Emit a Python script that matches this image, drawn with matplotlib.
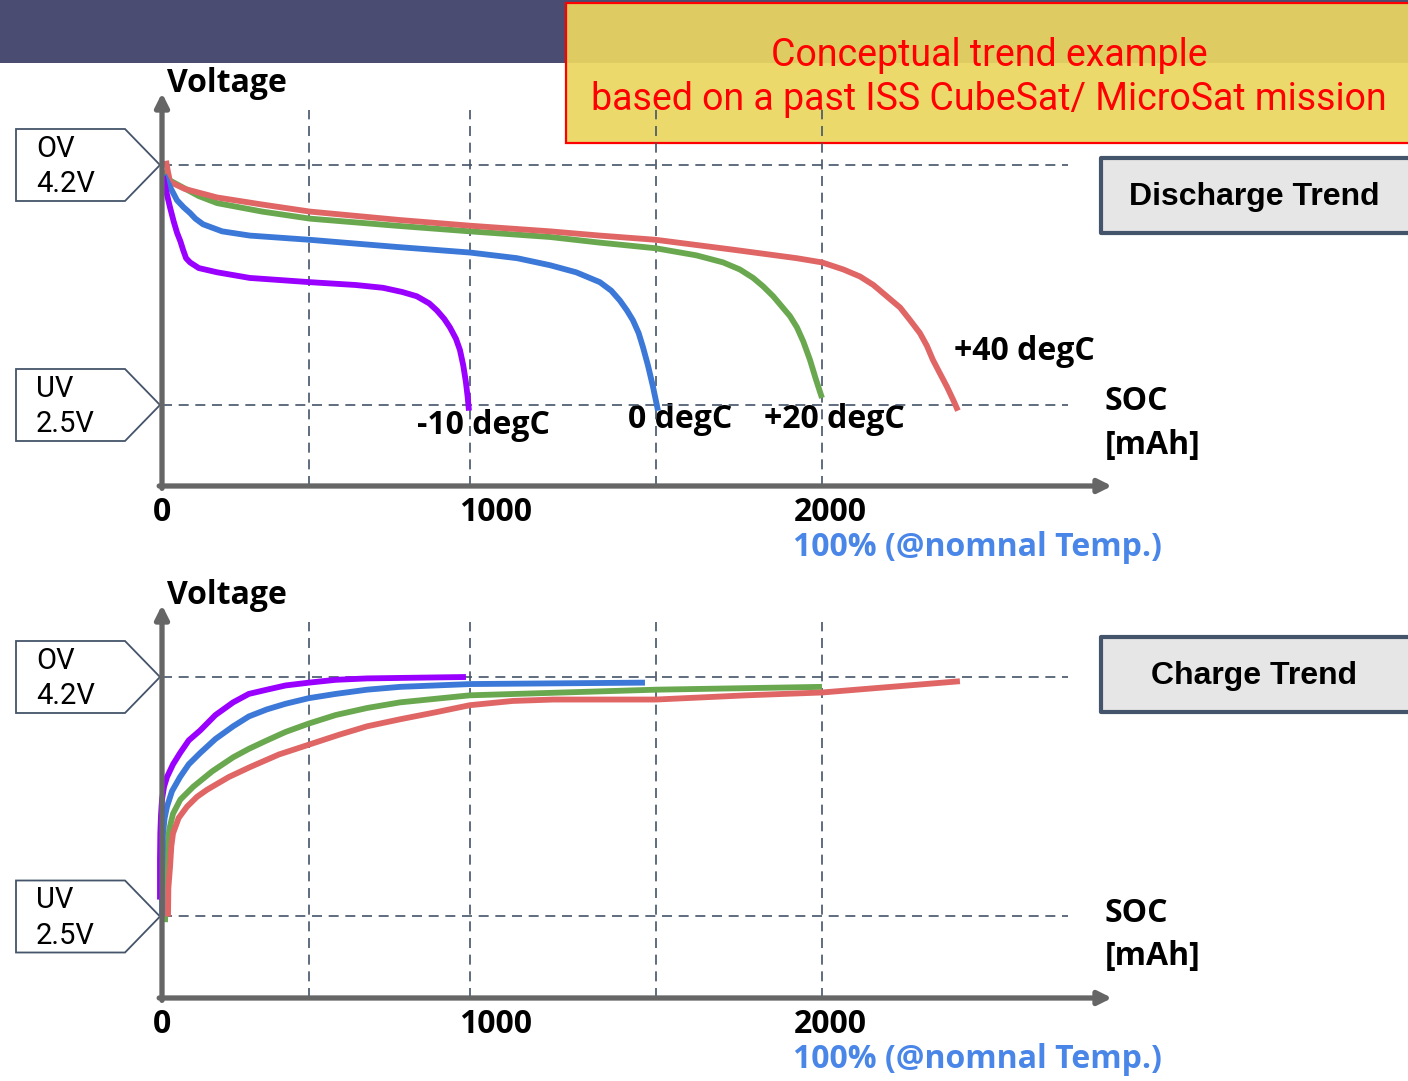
import matplotlib.pyplot as plt
from matplotlib.patches import Rectangle, Polygon

# discharge curves (mAh, V)
dis_m10_mah = [3, 12, 24, 35, 45, 55, 63, 72, 84, 110, 165, 263, 443, 580, 662, 720, 763, 800,
               823, 845, 862, 880, 892, 902, 910, 915, 919]
dis_m10_v = [4.12, 4.02, 3.90, 3.80, 3.72, 3.66, 3.60, 3.54, 3.51, 3.47, 3.44, 3.40, 3.37, 3.35,
             3.33, 3.30, 3.27, 3.22, 3.17, 3.11, 3.05, 2.97, 2.89, 2.78, 2.66, 2.56, 2.46]
dis_0_mah = [6, 25, 45, 65, 84, 100, 123, 180, 263, 443, 700, 922, 1063, 1162, 1240, 1311, 1345,
             1371, 1392, 1410, 1427, 1440, 1455, 1470, 1485]
dis_0_v = [4.13, 4.04, 3.95, 3.90, 3.86, 3.82, 3.78, 3.73, 3.70, 3.67, 3.62, 3.58, 3.54, 3.49,
           3.44, 3.37, 3.31, 3.24, 3.17, 3.10, 3.01, 2.91, 2.78, 2.63, 2.46]
dis_20_mah = [3, 24, 63, 110, 165, 300, 443, 700, 922, 1162, 1311, 1479, 1600, 1680, 1730, 1770,
              1800, 1830, 1855, 1880, 1901, 1920, 1940, 1958, 1976]
dis_20_v = [4.16, 4.09, 4.04, 3.98, 3.93, 3.87, 3.82, 3.77, 3.73, 3.69, 3.65, 3.61, 3.56, 3.51,
            3.46, 3.40, 3.34, 3.27, 3.20, 3.13, 3.05, 2.95, 2.82, 2.68, 2.55]
dis_40_mah = [12, 18, 24, 69, 165, 300, 443, 713, 922, 1162, 1311, 1479, 1710, 1900, 1976, 2040,
              2090, 2130, 2170, 2210, 2240, 2269, 2290, 2308, 2330, 2350, 2370, 2383]
dis_40_v = [4.23, 4.15, 4.08, 4.03, 3.97, 3.92, 3.87, 3.81, 3.77, 3.73, 3.70, 3.67, 3.60, 3.54,
            3.51, 3.46, 3.41, 3.35, 3.27, 3.19, 3.10, 3.01, 2.92, 2.82, 2.72, 2.63, 2.53, 2.46]

# charge curves (mAh, V)
chg_m10_mah = [-6, -6, -5, -3, 0, 6, 15, 33, 54, 80, 114, 160, 213, 260, 314, 370, 440, 520, 614, 910]
chg_m10_v = [2.62, 2.90, 3.09, 3.22, 3.33, 3.42, 3.49, 3.58, 3.66, 3.75, 3.82, 3.93, 4.02, 4.08,
             4.11, 4.14, 4.16, 4.18, 4.19, 4.20]
chg_0_mah = [0, 0, 3, 8, 15, 30, 54, 80, 114, 160, 213, 260, 314, 370, 440, 520, 614, 713, 925, 1446]
chg_0_v = [2.50, 2.80, 3.09, 3.20, 3.28, 3.39, 3.49, 3.58, 3.66, 3.76, 3.85, 3.92, 3.97, 4.01,
           4.05, 4.08, 4.11, 4.13, 4.15, 4.16]
chg_20_mah = [9, 12, 15, 22, 33, 55, 93, 150, 213, 260, 314, 370, 440, 520, 614, 713, 922, 1200,
              1479, 1976]
chg_20_v = [2.46, 2.75, 2.97, 3.12, 3.23, 3.33, 3.42, 3.53, 3.63, 3.69, 3.75, 3.81, 3.87, 3.93,
            3.98, 4.02, 4.07, 4.09, 4.11, 4.13]
chg_40_mah = [18, 19, 24, 28, 33, 50, 75, 105, 135, 200, 263, 350, 440, 530, 614, 713, 820, 922,
              1050, 1171, 1479, 1750, 1976, 2389]
chg_40_v = [2.50, 2.70, 2.85, 3.00, 3.09, 3.20, 3.28, 3.35, 3.40, 3.49, 3.56, 3.65, 3.72, 3.79,
            3.85, 3.90, 3.95, 4.00, 4.03, 4.04, 4.04, 4.07, 4.09, 4.17]

temps = ["-10 degC", "0 degC", "+20 degC", "+40 degC"]
colors = ["#9900ff", "#3c78d8", "#6aa84f", "#e06666"]
ov_v, uv_v = 4.2, 2.5
grid_mah = [440, 922, 1479, 1976]
soc_ticks = [0, 1000, 2000]

W, H = 1408, 1081
BOLD = "Open Sans"
BSIZE = 23
fig = plt.figure(figsize=(W / 100, H / 100), dpi=100)

# decoration layer in pixel coordinates
bg = fig.add_axes([0, 0, 1, 1], zorder=0)
bg.set_xlim(0, W)
bg.set_ylim(H, 0)
bg.axis("off")

bg.add_patch(Rectangle((0, 0), W, 63, color="#4a4c72", lw=0))
bg.add_patch(Rectangle((566, 3), 860, 140, facecolor=(0.918, 0.839, 0.38, 0.93),
                       edgecolor="#ff0000", lw=1.6))
bg.text(989, 55, "Conceptual trend example", ha="center", va="center",
        color="#ff0000", fontsize=27, family="Roboto")
bg.text(989, 99, "based on a past ISS CubeSat/ MicroSat mission", ha="center",
        va="center", color="#ff0000", fontsize=27, family="Roboto")


def callout(y, top, bottom):
    pts = [(16, y - 36), (125, y - 36), (160, y), (125, y + 36), (16, y + 36)]
    bg.add_patch(Polygon(pts, closed=True, facecolor="white", edgecolor="#44546a", lw=1.3))
    bg.text(36, y - 16, top, ha="left", va="center", fontsize=21, family="Roboto")
    bg.text(36, y + 19, bottom, ha="left", va="center", fontsize=21, family="Roboto")


def panel(ov_px, uv_px, axis_px, top_px, curves, title, title_px):
    x0, x_tip, px_per_mah = 162, 1112, 0.334
    ppv = (uv_px - ov_px) / (ov_v - uv_v)
    ax = fig.add_axes([x0 / W, 1 - axis_px / H, (x_tip - x0) / W, (axis_px - top_px) / H],
                      zorder=1)
    ax.patch.set_alpha(0)
    ax.set_xlim(0, (x_tip - x0) / px_per_mah)
    ax.set_ylim(ov_v - (axis_px - ov_px) / ppv, ov_v + (ov_px - top_px) / ppv)
    for s in ax.spines.values():
        s.set_visible(False)
    ax.set_yticks([])
    ax.set_xticks(soc_ticks)
    ax.set_xticklabels([str(t) for t in soc_ticks], fontsize=BSIZE, fontweight="bold", family=BOLD)
    ax.tick_params(axis="x", length=0, pad=7)

    grid_top = ov_v + 55 / ppv
    ax.hlines([ov_v, uv_v], 0, 2713, colors="#44546a", lw=1.2, linestyles=(0, (6, 4)))
    ax.vlines(grid_mah, ax.get_ylim()[0], grid_top, colors="#44546a", lw=1.2,
              linestyles=(0, (6, 4)))

    for (xs, ys), c in curves:
        ax.plot(xs, ys, color=c, lw=4.2, solid_capstyle="butt", solid_joinstyle="round",
                clip_on=False, zorder=3)

    arrow = dict(arrowstyle="-|>,head_length=0.8,head_width=0.4", color="#666666",
                 lw=3.8, shrinkA=0, shrinkB=0)
    ax.annotate("", xy=(1, 0), xytext=(-0.003, 0), xycoords="axes fraction",
                arrowprops=arrow, annotation_clip=False)
    ax.annotate("", xy=(0, 1), xytext=(0, -0.006), xycoords="axes fraction",
                arrowprops=arrow, annotation_clip=False)

    callout(ov_px, "OV", "4.2V")
    callout(uv_px, "UV", "2.5V")
    bg.text(167, top_px - 9, "Voltage", ha="left", va="center", fontsize=BSIZE,
            fontweight="bold", family=BOLD)
    bg.text(1105, uv_px - 3, "SOC", ha="left", va="center", fontsize=BSIZE,
            fontweight="bold", family=BOLD)
    bg.text(1105, uv_px + 40, "[mAh]", ha="left", va="center", fontsize=BSIZE,
            fontweight="bold", family=BOLD)
    bg.text(793, axis_px + 62, "100% (@nomnal Temp.)", ha="left", va="center",
            fontsize=BSIZE, fontweight="bold", family=BOLD, color="#4a86e8")

    bg.add_patch(Rectangle((1101, title_px - 38), 330, 75, facecolor="#e7e6e6",
                           edgecolor="#44546a", lw=3, joinstyle="round"))
    bg.text(1254, title_px + 1, title, ha="center", va="center", fontsize=23,
            fontweight="bold", family="Liberation Sans")
    return ax


top_curves = [((dis_20_mah, dis_20_v), colors[2]), ((dis_40_mah, dis_40_v), colors[3]),
              ((dis_0_mah, dis_0_v), colors[1]), ((dis_m10_mah, dis_m10_v), colors[0])]
bot_curves = [((chg_20_mah, chg_20_v), colors[2]), ((chg_40_mah, chg_40_v), colors[3]),
              ((chg_0_mah, chg_0_v), colors[1]), ((chg_m10_mah, chg_m10_v), colors[0])]

panel(165, 405, 486, 93, top_curves, "Discharge Trend", 196)
panel(677, 916.5, 998, 605, bot_curves, "Charge Trend", 675)

# temperature labels next to the discharge curve ends
for label, (x, y) in zip(temps, [(483, 425), (680, 420), (834, 420), (1024, 352)]):
    bg.text(x, y, label, ha="center", va="center", fontsize=BSIZE, fontweight="bold", family=BOLD)

fig.savefig("out.png", dpi=100)
